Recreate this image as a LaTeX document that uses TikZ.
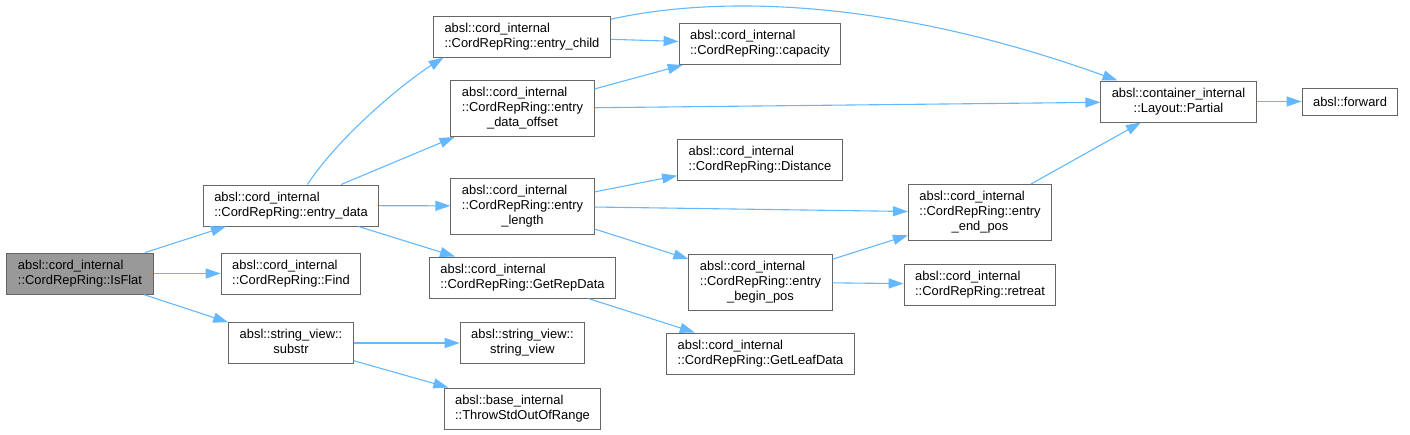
\documentclass[tikz,border=0pt]{standalone}
\usepackage{fontspec}
\setmainfont{Liberation Sans}
\usetikzlibrary{arrows.meta}
\definecolor{edgeblue}{HTML}{63B8FF}
\definecolor{boxgray}{HTML}{666666}
\definecolor{curgray}{HTML}{999999}
\newcommand{\fnlabel}[2]{\begin{tabular}{@{}l@{}}#1\\\multicolumn{1}{@{}c@{}}{#2}\end{tabular}}

\begin{document}
\begin{tikzpicture}[x=1pt,y=-1pt,>={Triangle[length=15pt,width=10pt]},
  fn/.style={draw=boxgray,line width=1pt,fill=white,inner xsep=11pt,inner ysep=0pt,
    minimum height=41pt,font=\fontsize{12.9}{15}\selectfont},
  fnthree/.style={fn,minimum height=56pt},
  call/.style={->,edgeblue,line width=1.1pt}]
% Call graph of CordRepRing::IsFlat, one box per function.
\useasboundingbox (0,0) rectangle (1410,434);
\node[fn,fill=curgray] (isflat) at (80,273.5) {\fnlabel{absl::cord\_internal}{::CordRepRing::IsFlat}};
\node[fn] (entrydata) at (291,205.5) {\fnlabel{absl::cord\_internal}{::CordRepRing::entry\_data}};
\node[fn] (find) at (291,273.5) {\fnlabel{absl::cord\_internal}{::CordRepRing::Find}};
\node[fn] (substr) at (291,343) {\fnlabel{absl::string\_view::}{substr}};
\node[fn] (entrychild) at (522,36.5) {\fnlabel{absl::cord\_internal}{::CordRepRing::entry\_child}};
\node[fnthree] (dataoffset) at (522.5,108.5) {\fnlabel{absl::cord\_internal\\::CordRepRing::entry}{\_data\_offset}};
\node[fnthree] (entrylength) at (522.5,206) {\fnlabel{absl::cord\_internal\\::CordRepRing::entry}{\_length}};
\node[fn] (getrepdata) at (522.5,277.5) {\fnlabel{absl::cord\_internal}{::CordRepRing::GetRepData}};
\node[fn] (stringview) at (522.5,343) {\fnlabel{absl::string\_view::}{string\_view}};
\node[fn] (throwoor) at (522.5,408.5) {\fnlabel{absl::base\_internal}{::ThrowStdOutOfRange}};
\node[fn] (capacity) at (760,44) {\fnlabel{absl::cord\_internal}{::CordRepRing::capacity}};
\node[fn] (distance) at (760,159.5) {\fnlabel{absl::cord\_internal}{::CordRepRing::Distance}};
\node[fnthree] (beginpos) at (760.5,282) {\fnlabel{absl::cord\_internal\\::CordRepRing::entry}{\_begin\_pos}};
\node[fn] (leafdata) at (760.5,353.5) {\fnlabel{absl::cord\_internal}{::CordRepRing::GetLeafData}};
\node[fnthree] (endpos) at (980,212.5) {\fnlabel{absl::cord\_internal\\::CordRepRing::entry}{\_end\_pos}};
\node[fn] (retreat) at (980,284.5) {\fnlabel{absl::cord\_internal}{::CordRepRing::retreat}};
\node[fn] (partial) at (1178.5,101.5) {\fnlabel{absl::container\_internal}{::Layout::Partial}};
\node[fn,minimum height=27pt] (forward) at (1350,101.5) {absl::forward};
\draw[call] (isflat) -- (entrydata);
\draw[call] (isflat) -- (find);
\draw[call] (isflat) -- (substr);
\draw[call] (entrydata.52) .. controls (340,135) and (405,82) .. (entrychild.195);
\draw[call] (entrydata) -- (dataoffset);
\draw[call] (entrydata) -- (entrylength);
\draw[call] (entrydata) -- (getrepdata);
\draw[call] (entrychild.11) .. controls (710,-3) and (880,-5) .. (partial.161);
\draw[call] (entrychild) -- (capacity);
\draw[call] (dataoffset) -- (capacity);
\draw[call] (dataoffset) -- (partial);
\draw[call] (entrylength) -- (distance);
\draw[call] (entrylength) -- (endpos);
\draw[call] (entrylength) -- (beginpos);
\draw[call] (getrepdata) -- (leafdata);
\draw[call] (beginpos) -- (endpos);
\draw[call] (beginpos) -- (retreat);
\draw[call] (endpos) -- (partial);
\draw[call] (partial) -- (forward);
\draw[call] (substr) -- (stringview);
\draw[call] (substr) -- (throwoor);
\end{tikzpicture}
\end{document}
